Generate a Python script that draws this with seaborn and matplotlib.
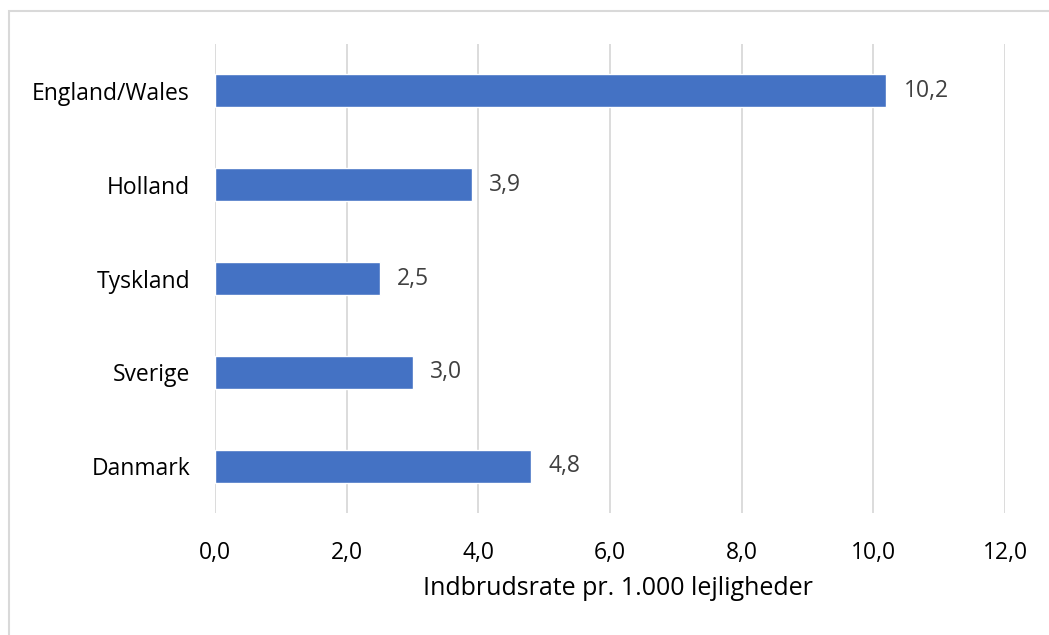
import matplotlib
matplotlib.use('Agg')
import matplotlib.pyplot as plt
import seaborn as sns
import pandas as pd
from matplotlib.patches import Rectangle

lande = ['England/Wales', 'Holland', 'Tyskland', 'Sverige', 'Danmark']
rate = [10.2, 3.9, 2.5, 3.0, 4.8]
xticks = [0, 2, 4, 6, 8, 10, 12]
xlabel = 'Indbrudsrate pr. 1.000 lejligheder'

df = pd.DataFrame({'land': lande, 'rate': rate})

sns.set_style('white')
plt.rcParams['font.family'] = ['Open Sans', 'DejaVu Sans']

fig = plt.figure(figsize=(10.49, 6.35), dpi=100)
ax = fig.add_axes([215/1049, 1-513/635, 790/1049, 469/635])

sns.barplot(data=df, x='rate', y='land', color='#4472C4', saturation=1,
            width=0.35, ax=ax)

ax.set_xlim(0, 12)
ax.set_ylim(4.5, -0.5)
ax.set_xticks(xticks)
ax.set_xticklabels([f'{t:.1f}'.replace('.', ',') for t in xticks])
ax.grid(axis='x', color='#D9D9D9', linewidth=1.3)
ax.set_axisbelow(True)
for s in ax.spines.values():
    s.set_visible(False)
ax.tick_params(axis='both', length=0, labelsize=16.5, labelcolor='#000000')
ax.tick_params(axis='x', pad=20)
ax.tick_params(axis='y', pad=18)
ax.set_ylabel('')
ax.set_xlabel(xlabel, fontsize=18, color='#000000', labelpad=10)
ax.xaxis.set_label_coords(0.51, -0.135)

for i, v in enumerate(rate):
    ax.text(v + 0.26, i, f'{v:.1f}'.replace('.', ','), va='center', ha='left',
            fontsize=16.5, color='#404040')

fig.patches.append(Rectangle((9/1049, -0.05), 1.2, 1 - 11/635 + 0.05,
                             transform=fig.transFigure, fill=False,
                             edgecolor='#D9D9D9', linewidth=1.5))

fig.savefig('out.png', dpi=100)
